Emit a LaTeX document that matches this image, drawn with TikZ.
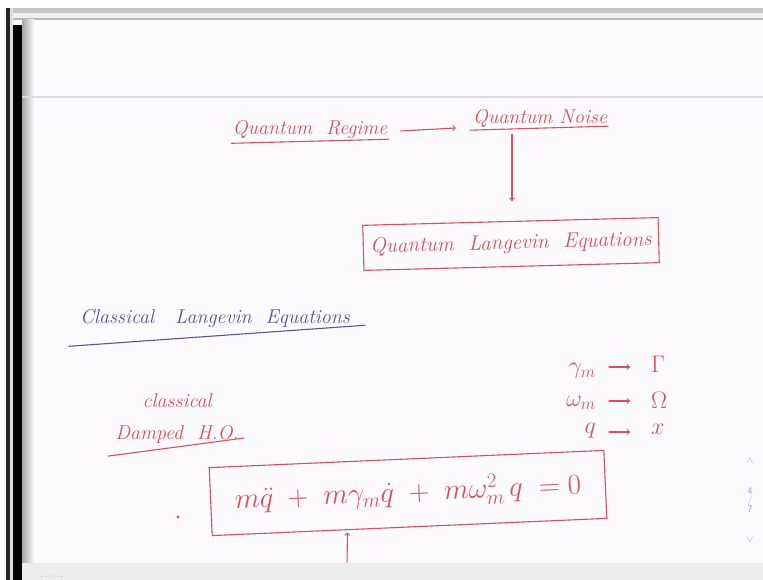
\RequirePackage{fix-cm}
\documentclass[tikz,border=0pt]{standalone}
\usepackage{tikz}
\usetikzlibrary{arrows}
\tikzset{>={to}}
\usepackage{amsmath,amssymb}
\definecolor{InkRed}{HTML}{D5515E}
\definecolor{InkBlue}{HTML}{55559E}
\definecolor{PageWhite}{HTML}{FCFAFC}
\definecolor{RuleLilac}{HTML}{DCDAEA}
\definecolor{BarGray}{HTML}{ECECEC}
\definecolor{NavBlue}{HTML}{8CA2DE}
\tikzset{
  ink/.style={InkRed, line width=1.1pt, line cap=round},
  hand/.style={text=InkRed, font=\itshape\fontsize{20}{32}\selectfont, inner sep=1pt},
  handbox/.style={hand, draw=InkRed, line width=1.1pt},
  mapsto/.style={ink, ->, shorten <=12pt, shorten >=20pt},
}

\begin{document}
\begin{tikzpicture}[x=1pt,y=-1pt]
\useasboundingbox (0,0) rectangle (763,580);
% window frame and page
\fill[white] (0,0) rectangle (763,580);
\fill[PageWhite] (22,20) rectangle (763,563);
\fill[gray!45] (6,8) rectangle (763,13);
\fill[gray!12] (6,13) rectangle (763,18);
\fill[gray!55] (6,18) rectangle (763,20);
\fill[black!85] (6,8) rectangle (10,580);
\fill[gray!25] (10,8) rectangle (13,580);
\fill[black] (13,25) rectangle (22,580);
\shade[left color=black!35, right color=PageWhite] (22,20) rectangle (34,563);
\draw[RuleLilac, line width=2pt] (22,97) -- (763,97);

% top chain
\node[hand] (regime) at (310,130) {Quantum\ \ Regime};
\node[hand] (noise) at (540,118) {Quantum Noise};
\node[handbox, rotate=1.5, font=\itshape\fontsize{21}{32}\selectfont, inner xsep=7pt, inner ysep=13pt] (qle) at (511,244) {Quantum\ \ Langevin\ \ Equations};
\draw[ink] ([yshift=-3pt]regime.south west) -- ([yshift=1pt]regime.south east);
\draw[ink] ([xshift=-2pt,yshift=-2pt]noise.south west) -- ([yshift=2pt]noise.south east);
\draw[ink,->] ([xshift=12pt,yshift=-1pt]regime.east) -- ([xshift=-16pt,yshift=-10pt]noise.west);
\draw[ink,->,shorten >=20pt] ([xshift=-28pt,yshift=-6pt]noise.south) -- ([xshift=-28pt]noise.south |- qle.north);

% classical section
\node[hand, text=InkBlue] (cle) at (215,318) {Classical\ \ \ Langevin\ \ Equations};
\draw[InkBlue, line width=1.1pt, line cap=round] ([xshift=-10pt,yshift=-18pt]cle.south west) -- ([xshift=14pt,yshift=3pt]cle.south east);
\node[hand, align=center] (dho) at (177,418) {classical\\Damped\ \ H.O.};
\draw[ink] ([xshift=-6pt,yshift=-12pt]dho.south west) -- ([xshift=4pt,yshift=6pt]dho.south east);

% parameter map
\node[hand, anchor=east, font=\fontsize{24}{28}\selectfont] (gm) at (597,371) {$\gamma_m$};
\node[hand, anchor=east, font=\fontsize{24}{28}\selectfont] (wm) at (597,403) {$\omega_m$};
\node[hand, anchor=east, font=\fontsize{24}{28}\selectfont] (qq) at (597,431) {$q$};
\node[hand, anchor=west, font=\fontsize{24}{28}\selectfont] (Gam) at (650,364) {$\Gamma$};
\node[hand, anchor=west, font=\fontsize{24}{28}\selectfont] (Om) at (650,400) {$\Omega$};
\node[hand, anchor=west, font=\fontsize{24}{28}\selectfont] (xx) at (650,429) {$x$};
\draw[mapsto] (gm.east |- 0,367) -- (Gam.west |- 0,367);
\draw[mapsto] (wm.east |- 0,401) -- (Om.west |- 0,401);
\draw[mapsto] (qq.east |- 0,432) -- (xx.west |- 0,432);

% equation of motion
\node[handbox, rotate=2.5, font=\fontsize{29}{34}\selectfont, minimum width=395pt, minimum height=68pt] (eom) at (408,493)
  {$m\ddot{q} \;+\; m\gamma_m\dot{q} \;+\; m\omega_m^2\, q \;=0$};
\node[fill=InkRed, circle, inner sep=1.2pt] (dot) at (178,517) {};
\coordinate (below) at (347,566);
\draw[ink,->, shorten >=5pt] (below) -- ([xshift=-62pt]eom.south);

% bottom bar and page navigation
\fill[BarGray] (22,563) rectangle (763,580);
\draw[gray!50, rounded corners=1pt] (41,576) rectangle (62,582);
\node[text=NavBlue, font=\sffamily\fontsize{10}{10}\selectfont] (up) at (750,461) {$\wedge$};
\node[text=NavBlue, font=\sffamily\fontsize{10}{12}\selectfont, align=center] (pg) at (750,500) {4\\[-3pt]/\\[-3pt]7};
\node[text=NavBlue, font=\sffamily\fontsize{10}{10}\selectfont] (down) at (750,540) {$\vee$};
\end{tikzpicture}
\end{document}
